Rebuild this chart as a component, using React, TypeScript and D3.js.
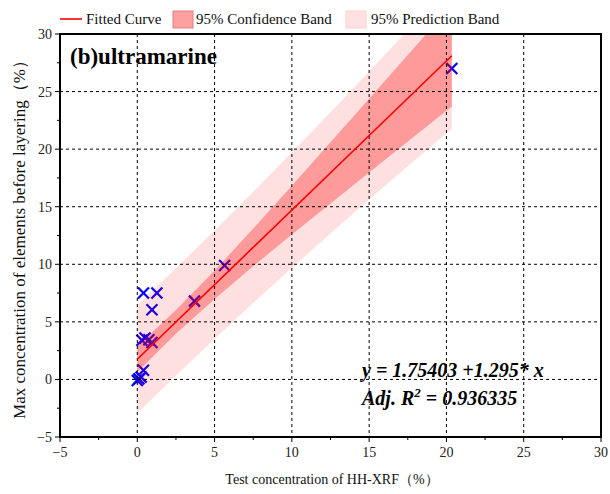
import React from "react";
import * as d3 from "d3";

// Scatter data (Test concentration HH-XRF vs Max concentration)
const pointX = [20.35, 5.65, 3.7, 0.4, 1.27, 0.95, 0.3, 0.5, 0.75, 0.95, 0.4, 0.1, 0.0, 0.25];
const pointY = [27.0, 9.9, 6.8, 7.5, 7.5, 6.05, 3.4, 3.6, 3.45, 3.2, 0.8, 0.05, -0.1, 0.2];

// Fitted curve
const intercept = 1.75403;
const slope = 1.295;
const fitRange = [0, 20.35];

// Band edges
const bandX = [0, 2.5, 5, 7.5, 10, 12.5, 15, 17.5, 20.35];
const confLow = [0.64, 3.97, 6.99, 9.83, 12.58, 15.29, 17.98, 20.66, 23.71];
const confHigh = [2.87, 6.02, 9.46, 13.1, 16.83, 20.6, 24.38, 28.18, 32.51];
const predLow = [-2.93, 0.33, 3.52, 6.63, 9.68, 12.68, 15.62, 18.52, 21.78];
const predHigh = [6.44, 9.66, 12.94, 16.3, 19.73, 23.21, 26.74, 30.32, 34.44];

const xTicks = [-5, 0, 5, 10, 15, 20, 25, 30];
const yTicks = [-5, 0, 5, 10, 15, 20, 25, 30];
const minorTicks = [-2.5, 2.5, 7.5, 12.5, 17.5, 22.5, 27.5];

const legendLabels = ["Fitted Curve", "95% Confidence Band", "95% Prediction Band"];
const title = "(b)ultramarine";
const xLabel = "Test concentration of HH-XRF（%）";
const yLabel = "Max concentration of elements before layering（%）";

const W = 610;
const H = 494;
const L = 60, R = 601, T = 34, B = 437;
const serif = "'Liberation Serif', 'Times New Roman', serif";

const fmt = (v: number) => (v < 0 ? "\u2212" + Math.abs(v) : String(v));

export default function App() {
  const x = d3.scaleLinear().domain([-5, 30]).range([L, R]);
  const y = d3.scaleLinear().domain([-5, 30]).range([B, T]);

  const idx = bandX.map((_, i) => i);
  const predArea = d3
    .area<number>()
    .x((i) => x(bandX[i]))
    .y0((i) => y(predLow[i]))
    .y1((i) => y(predHigh[i]))(idx) as string;
  const confArea = d3
    .area<number>()
    .x((i) => x(bandX[i]))
    .y0((i) => y(confLow[i]))
    .y1((i) => y(confHigh[i]))(idx) as string;
  const fitLine = d3
    .line<number>()
    .x((v) => x(v))
    .y((v) => y(intercept + slope * v))(fitRange) as string;

  const gridVals = [0, 5, 10, 15, 20, 25];
  const m = 5.5;

  return (
    <svg
      width={W}
      height={H}
      style={{ position: "absolute", left: 0, top: 0, background: "#fff" }}
      fontFamily={serif}
    >
      <defs>
        <clipPath id="plotClip">
          <rect x={L} y={T} width={R - L} height={B - T} />
        </clipPath>
      </defs>

      {/* points (under translucent bands) */}
      <g clipPath="url(#plotClip)">
        {pointX.map((px, i) => {
          const cx = x(px);
          const cy = y(pointY[i]);
          return (
            <g key={i} stroke="#0000ff" strokeWidth={2.2}>
              <line x1={cx - m} y1={cy - m} x2={cx + m} y2={cy + m} />
              <line x1={cx - m} y1={cy + m} x2={cx + m} y2={cy - m} />
            </g>
          );
        })}
        <path d={predArea} fill="#ff0000" fillOpacity={0.12} />
        <path d={confArea} fill="#ff0000" fillOpacity={0.31} />
      </g>

      {/* grid */}
      <g stroke="#000" strokeWidth={1} strokeDasharray="3,3">
        {gridVals.map((v) => (
          <line key={"gx" + v} x1={x(v)} x2={x(v)} y1={T} y2={B} />
        ))}
        {gridVals.map((v) => (
          <line key={"gy" + v} x1={L} x2={R} y1={y(v)} y2={y(v)} />
        ))}
      </g>

      <g clipPath="url(#plotClip)">
        <path d={fitLine} stroke="#ff0000" strokeWidth={1.6} fill="none" />
      </g>

      {/* frame */}
      <rect x={L} y={T} width={R - L} height={B - T} fill="none" stroke="#000" strokeWidth={2} />

      {/* axis ticks */}
      <g stroke="#000" strokeWidth={1}>
        {xTicks.map((v) => (
          <line key={"xt" + v} x1={x(v)} x2={x(v)} y1={B} y2={B + 5} />
        ))}
        {minorTicks.map((v) => (
          <line key={"xm" + v} x1={x(v)} x2={x(v)} y1={B} y2={B + 3} />
        ))}
        {yTicks.map((v) => (
          <line key={"yt" + v} x1={L - 5} x2={L} y1={y(v)} y2={y(v)} />
        ))}
        {minorTicks.map((v) => (
          <line key={"ym" + v} x1={L - 3} x2={L} y1={y(v)} y2={y(v)} />
        ))}
      </g>
      <g fontSize={14} fill="#222">
        {xTicks.map((v) => (
          <text key={"xl" + v} x={x(v)} y={B + 20} textAnchor="middle">
            {fmt(v)}
          </text>
        ))}
        {yTicks.map((v) => (
          <text key={"yl" + v} x={L - 8} y={y(v) + 5} textAnchor="end">
            {fmt(v)}
          </text>
        ))}
      </g>

      {/* axis titles */}
      <text x={332} y={484} textAnchor="middle" fontSize={14} fill="#111">
        {xLabel}
      </text>
      <text
        transform={`translate(25, ${(T + B) / 2}) rotate(-90)`}
        textAnchor="middle"
        fontSize={17}
        fill="#111"
      >
        {yLabel}
      </text>

      {/* title */}
      <text x={70} y={64} fontSize={23} fontWeight="bold" fill="#000">
        {title}
      </text>

      {/* equation */}
      <g fontSize={20} fontWeight="bold" fontStyle="italic" fill="#000">
        <text x={362} y={377}>y = 1.75403 +1.295* x</text>
        <text x={362} y={405}>
          Adj. R<tspan dy={-8} fontSize={13}>2</tspan>
          <tspan dy={8}> = 0.936335</tspan>
        </text>
      </g>

      {/* legend */}
      <g fontSize={15} fill="#111">
        <line x1={60} x2={82} y1={19} y2={19} stroke="#ff0000" strokeWidth={1.6} />
        <text x={86} y={24}>{legendLabels[0]}</text>
        <rect x={173} y={11} width={20} height={17} fill="#ffa0a0" stroke="#e08080" strokeWidth={1} />
        <text x={196} y={24}>{legendLabels[1]}</text>
        <rect x={346} y={11} width={20} height={17} fill="#ffe1e1" stroke="#ffd0d0" strokeWidth={1} />
        <text x={371} y={24}>{legendLabels[2]}</text>
      </g>
    </svg>
  );
}
